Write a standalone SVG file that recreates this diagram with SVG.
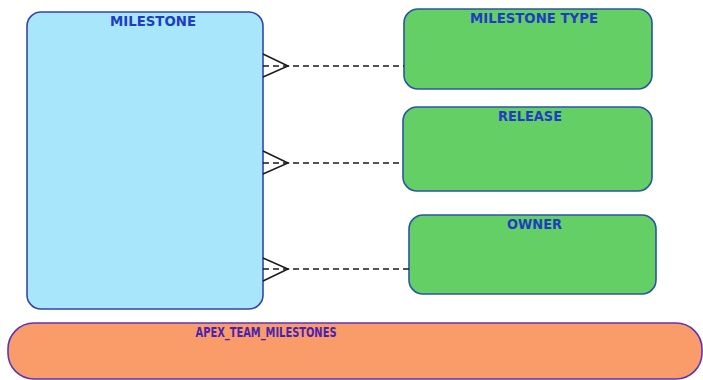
<svg xmlns="http://www.w3.org/2000/svg" width="703" height="380" viewBox="0 0 703 380">
<style>
.lbl{font-family:"DejaVu Sans Condensed","DejaVu Sans",sans-serif;font-stretch:condensed;font-weight:bold;font-size:14.5px;fill:#1f3cc4;}
.ent{stroke-width:1.6;}
.con{fill:none;stroke:#1a1a1a;stroke-width:1.5;}
.dash{stroke-dasharray:6 4;}
</style>
<rect width="703" height="380" fill="#ffffff"/>
<g id="milestone">
<rect class="ent" x="27" y="12" width="236" height="297" rx="14" fill="#a7e6fb" stroke="#3346a8"/>
<text class="lbl" x="153" y="26" text-anchor="middle" textLength="86" lengthAdjust="spacingAndGlyphs">MILESTONE</text>
</g>
<g id="milestone_type">
<rect class="ent" x="404" y="9" width="248" height="80" rx="14" fill="#64cf64" stroke="#2a55a0"/>
<text class="lbl" x="534" y="23" text-anchor="middle" textLength="128" lengthAdjust="spacingAndGlyphs">MILESTONE TYPE</text>
</g>
<g id="release">
<rect class="ent" x="403" y="107" width="249" height="84" rx="14" fill="#64cf64" stroke="#2a55a0"/>
<text class="lbl" x="530" y="121" text-anchor="middle" textLength="64" lengthAdjust="spacingAndGlyphs">RELEASE</text>
</g>
<g id="owner">
<rect class="ent" x="409" y="215" width="247" height="79" rx="14" fill="#64cf64" stroke="#2a55a0"/>
<text class="lbl" x="534.5" y="229" text-anchor="middle" textLength="55" lengthAdjust="spacingAndGlyphs">OWNER</text>
</g>
<g id="apex_team_milestones">
<rect class="ent" x="8" y="323" width="694" height="56" rx="26" fill="#f99c6a" stroke="#5b35b5"/>
<text class="lbl" x="266" y="337" text-anchor="middle" textLength="141" lengthAdjust="spacingAndGlyphs" style="fill:#4a22b0">APEX_TEAM_MILESTONES</text>
</g>
<g id="connectors">
<line class="con dash" x1="263" y1="66" x2="404" y2="66"/>
<polyline class="con" points="263,54 288,66 263,77"/>
<line class="con dash" x1="263" y1="163" x2="403" y2="163"/>
<polyline class="con" points="263,151 288,163 263,174"/>
<line class="con dash" x1="263" y1="269" x2="409" y2="269"/>
<polyline class="con" points="263,258 288,269 263,281"/>
</g>
</svg>
